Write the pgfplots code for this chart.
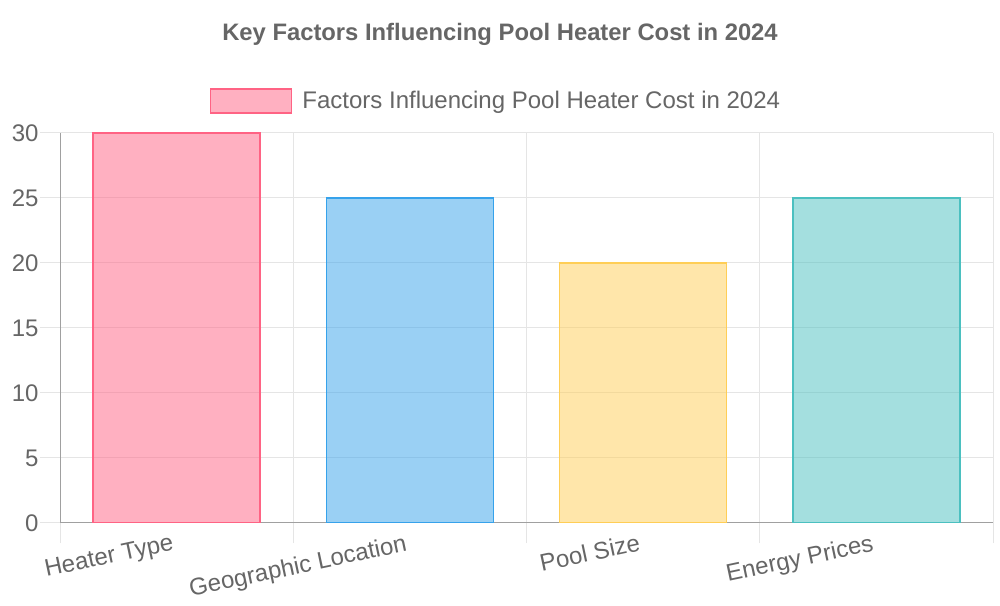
\documentclass[border=0pt]{standalone}
\usepackage{pgfplots}
\pgfplotsset{compat=1.18}
\usepackage{fontspec}
\setmainfont{Liberation Sans}
\definecolor{txt}{RGB}{102,102,102}
\definecolor{gridc}{RGB}{229,229,229}
\definecolor{axc}{RGB}{160,160,160}
\definecolor{cpink}{RGB}{255,99,132}
\definecolor{cblue}{RGB}{54,162,235}
\definecolor{cyellow}{RGB}{255,206,86}
\definecolor{cteal}{RGB}{75,192,192}
\begin{document}
\begin{tikzpicture}[x=1pt,y=1pt]
\fill[white] (0,0) rectangle (1000,600);
\node[text=txt,font=\fontsize{23.8}{28}\selectfont\bfseries] at (500,566) {Key Factors Influencing Pool Heater Cost in 2024};
\begin{axis}[
  at={(60pt,77pt)}, anchor=south west, scale only axis,
  width=933pt, height=390pt,
  xmin=-0.5, xmax=3.5, ymin=0, ymax=30,
  ytick={0,5,...,30},
  xtick={0,1,2,3},
  xticklabels={Heater Type, Geographic Location, Pool Size, Energy Prices},
  minor xtick={-0.5,0.5,1.5,2.5,3.5},
  xminorgrids, ymajorgrids,
  grid style={gridc, line width=1pt},
  minor grid style={gridc, line width=1pt},
  axis x line*=bottom, axis y line*=left,
  axis line style={axc, line width=1pt, -},
  tick align=outside,
  major tick length=20pt, minor tick length=20pt,
  tick style={gridc, line width=1pt},
  major x tick style={draw=none},
  /pgf/number format/assume math mode=true,
  ticklabel style={text=txt, font=\fontsize{24}{28}\selectfont},
  yticklabel style={xshift=2pt},
  xticklabel style={rotate=12, anchor=north east, yshift=14pt},
  ybar,
  bar width=0.716,
  legend style={at={(0.4673,1.082)}, anchor=center, draw=none, fill=none,
    font=\fontsize{24}{28}\selectfont, text=txt,
    /tikz/every even column/.append style={column sep=0pt}},
  legend image code/.code={\draw[#1] (-6pt,-12pt) rectangle (75pt,12pt);},
  legend cell align=left,
]
\addplot[bar shift=0pt, draw=cpink, fill=cpink, fill opacity=0.5, line width=1.5pt] coordinates {(0,30)};
\addlegendentry{\hspace{8pt}Factors Influencing Pool Heater Cost in 2024}
\addplot[bar shift=0pt, draw=cblue, fill=cblue, fill opacity=0.5, line width=1.5pt, forget plot] coordinates {(1,25)};
\addplot[bar shift=0pt, draw=cyellow, fill=cyellow, fill opacity=0.5, line width=1.5pt, forget plot] coordinates {(2,20)};
\addplot[bar shift=0pt, draw=cteal, fill=cteal, fill opacity=0.5, line width=1.5pt, forget plot] coordinates {(3,25)};
\end{axis}
\end{tikzpicture}
\end{document}
